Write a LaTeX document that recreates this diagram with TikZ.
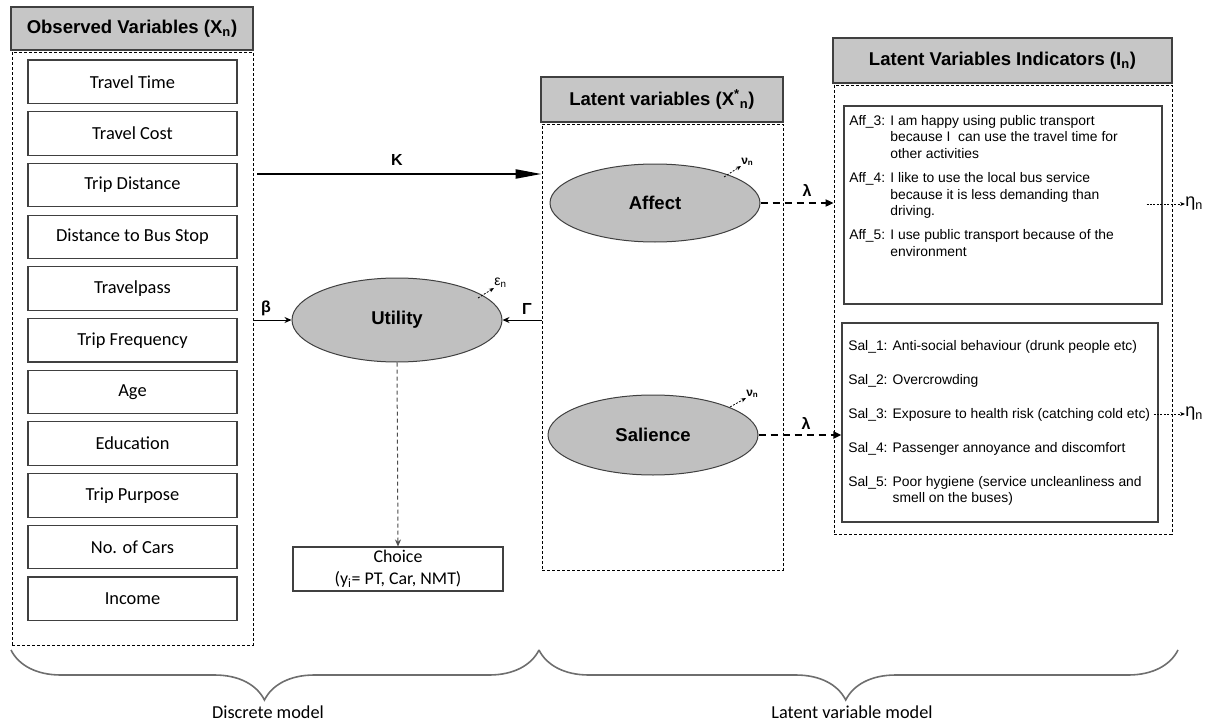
\documentclass[tikz,border=0pt]{standalone}
\usepackage{fontspec}
\setmainfont{Liberation Sans}
\newfontfamily\calfont{Carlito}
\usetikzlibrary{fit,shapes.geometric,arrows.meta,decorations.pathreplacing}
\definecolor{edge}{HTML}{404040}
\definecolor{hdrfill}{HTML}{C6C6C6}
\definecolor{ellfill}{HTML}{C0C0C0}
\definecolor{bracecol}{HTML}{6E6E6E}
\begin{document}
\begin{tikzpicture}[x=0.75pt,y=-0.75pt,
  hdr/.style={draw=edge, fill=hdrfill, line width=0.825pt, inner sep=0,
    minimum width=181.5pt, minimum height=33.75pt,
    font=\fontsize{13.9}{16}\selectfont\bfseries},
  grp/.style={draw=black, dash pattern=on 2.25pt off 1.5pt, line width=0.675pt, inner sep=0},
  varbox/.style={draw=edge, line width=0.825pt, inner sep=0,
    minimum width=156.75pt, minimum height=32.6pt,
    font=\calfont\fontsize{13.8}{16}\selectfont},
  itembox/.style={draw=edge, line width=0.825pt, inner sep=0},
  latent/.style={ellipse, draw=edge, fill=ellfill, line width=0.75pt, inner sep=0,
    minimum width=157.5pt, font=\fontsize{13.9}{16}\selectfont\bfseries},
  itemtext/.style={anchor=north west, inner sep=0, align=left,
    font=\fontsize{10.4}{12.5}\selectfont},
  greek/.style={inner sep=0, font=\fontsize{12}{14}\selectfont\bfseries},
  thinarrow/.style={draw=black, line width=0.75pt, -{Stealth[length=5.25pt,width=4.5pt]}},
  lamarrow/.style={draw=black, line width=1.5pt, dash pattern=on 5.25pt off 3.75pt,
    -{Triangle[length=6pt,width=5.25pt]}},
  dotarrow/.style={draw=black, line width=0.6pt, dash pattern=on 1.5pt off 1.1pt,
    -{Stealth[length=3.75pt,width=3pt]}},
  bracestyle/.style={draw=bracecol, line width=1.2pt,
    decorate, decoration={brace, mirror, amplitude=37.5pt, aspect=0.48}},
  bottomlabel/.style={inner sep=0, font=\calfont\fontsize{13.7}{16}\selectfont}
]
\useasboundingbox (0,0) rectangle (1210,724);

% ---------- Observed variables ----------
\node[hdr, minimum height=32.25pt] (h1) at (132,28.5) {Observed Variables (X\textsubscript{n})};
\node[grp, fit={(12,52)(253,645)}] (d1) {};
\foreach \t [count=\i from 0] in {Travel Time, Travel Cost, Trip Distance,
    Distance to Bus Stop, Travelpass, Trip Frequency, Age, Education,
    Trip Purpose, No. of Cars, Income}{
  \pgfmathsetmacro\yc{81.75+51.7*\i}
  \node[varbox] (v\i) at (132.5,\yc) {\t};
}

% ---------- Latent variables ----------
\node[hdr] (h2) at (662,99.5) {Latent variables (X\textsuperscript{*}\textsubscript{n})};
\node[grp, fit={(542,124)(783,570)}] (d2) {};
\node[latent, minimum height=58.5pt] (affect) at (655,203) {Affect};
\node[latent, minimum height=60pt] (salience) at (653,435) {Salience};

% ---------- Indicators ----------
\node[hdr, minimum width=254.25pt] (h3) at (1002.5,60.5) {Latent Variables Indicators (I\textsubscript{n})};
\node[grp, fit={(834,85)(1172,534)}] (d3) {};
\node[itembox, fit={(844,106)(1162,304)}] (affbox) {};
\node[itembox, fit={(842,323)(1158,522)}] (salbox) {};

\node[itemtext] (afftext) at (849,115) {%
Aff\_3: I am happy using public transport\\
\phantom{Aff\_3: }because I\ \ can use the travel time for\\
\phantom{Aff\_3: }other activities\\[5.5pt]
Aff\_4: I like to use the local bus service\\
\phantom{Aff\_4: }because it is less demanding than\\
\phantom{Aff\_4: }driving.\\[5.5pt]
Aff\_5: I use public transport because of the\\
\phantom{Aff\_5: }environment};

\node[itemtext] (saltext) at (848,340) {%
Sal\_1: Anti-social behaviour (drunk people etc)\\[13pt]
Sal\_2: Overcrowding\\[13pt]
Sal\_3: Exposure to health risk (catching cold etc)\\[13pt]
Sal\_4: Passenger annoyance and discomfort\\[13pt]
Sal\_5: Poor hygiene (service uncleanliness and\\
\phantom{Sal\_5: }smell on the buses)};

\node[inner sep=0, anchor=west, font=\fontsize{13.5}{15}\selectfont] (eta1) at (1185,204) {η\textsubscript{n}};
\node[inner sep=0, anchor=west, font=\fontsize{13.5}{15}\selectfont] (eta2) at (1185,414) {η\textsubscript{n}};

% ---------- Utility & choice ----------
\node[latent, minimum height=63pt] (utility) at (397,320) {Utility};
\node[varbox, minimum width=157.5pt, minimum height=33pt, align=center,
  font=\calfont\fontsize{13.4}{16.5}\selectfont] (choice) at (398,569)
  {Choice\\(y\textsubscript{i}= PT, Car, NMT)};

% ---------- Connectors ----------
\coordinate (kstart) at (257,174);
\draw[line width=1.65pt, -{Triangle[length=19.5pt,width=6.75pt]}] (kstart) -- (kstart -| d2.west);
\node[greek] (klab) at (397,160) {K};

\draw[thinarrow] (utility.west -| d1.east) -- (utility.west);
\node[greek] (blab) at (266,308) {β};
\draw[thinarrow] (utility.east -| d2.west) -- (utility.east);
\node[greek] (glab) at (527,309) {Γ};

\draw[lamarrow] (affect.east) -- (affect.east -| d3.west);
\node[greek] (l1) at (807,190) {λ};
\draw[lamarrow] (salience.east) -- (salience.east -| salbox.west);
\node[greek] (l2) at (806,423) {λ};

\draw[dotarrow] (eta1.west -| affbox.east) ++(-12pt,0) -- (eta1.west);
\draw[dotarrow] (eta2.west -| salbox.east) ++(-3.75pt,0) -- (eta2.west);

\draw[draw=black!70, line width=0.75pt, dash pattern=on 3pt off 2.25pt,
  -{Stealth[length=5.25pt,width=4.5pt]}] (utility.south) -- (choice.north);

% error terms
\node[inner sep=0, anchor=south west, font=\fontsize{10.5}{12}\selectfont] (eps) at (494,288) {ε\textsubscript{n}};
\coordinate (epsstart) at (478,298);
\draw[dotarrow] (epsstart) -- (eps.south west);
\node[inner sep=0, anchor=south west, font=\fontsize{9}{10}\selectfont\bfseries] (nu1) at (741,166) {ν\textsubscript{n}};
\coordinate (nu1start) at (724,177);
\draw[dotarrow] (nu1start) -- (nu1.south west);
\node[inner sep=0, anchor=south west, font=\fontsize{9}{10}\selectfont\bfseries] (nu2) at (746,398) {ν\textsubscript{n}};
\coordinate (nu2start) at (730,407);
\draw[dotarrow] (nu2start) -- (nu2.south west);

% ---------- Braces ----------
\coordinate (b0) at (11,650);
\coordinate (b1) at (539,650);
\coordinate (b2) at (1178,650);
\draw[bracestyle] (b0) -- (b1);
\draw[bracestyle] (b1) -- (b2);
\node[bottomlabel] (disc) at (268,712) {Discrete model};
\node[bottomlabel] (lvm) at (852,712) {Latent variable model};
\end{tikzpicture}
\end{document}
